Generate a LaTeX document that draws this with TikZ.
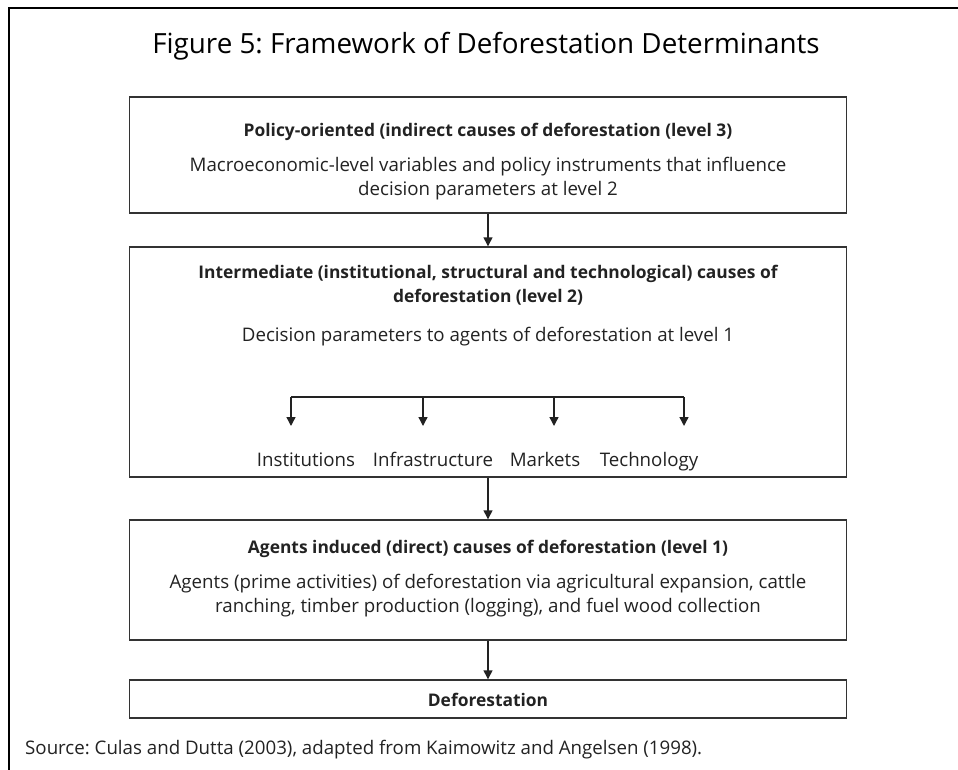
\documentclass[tikz,border=0pt]{standalone}
\usepackage{fontspec}
\setmainfont{Open Sans}[Ligatures=NoCommon]
\usetikzlibrary{arrows.meta}
\frenchspacing
\definecolor{boxline}{HTML}{333333}
\definecolor{txt}{HTML}{222222}
\tikzset{
  box/.style={draw=boxline, line width=1.4pt, minimum width=717pt, inner sep=0pt},
  arr/.style={draw=txt, line width=1.4pt, -{Triangle[length=9pt,width=9pt]}},
  bar/.style={draw=txt, line width=1.4pt},
  head/.style={font=\fontsize{17.4}{24}\selectfont\bfseries, text=txt, align=center, inner sep=0pt},
  body/.style={font=\fontsize{18.7}{24}\selectfont, text=txt, align=center, inner sep=0pt},
  lab/.style={font=\fontsize{18.7}{24}\selectfont, text=txt, inner sep=0pt, anchor=base},
  frame/.style={draw=black, line width=2.5pt},
}
\begin{document}
\begin{tikzpicture}[x=1pt,y=-1pt]
\useasboundingbox (0,0) rectangle (958,770);
% outer frame
\coordinate (fl) at (9,770);
\coordinate (ftl) at (9,8);
\coordinate (ftr) at (958,8);
\draw[frame] (fl) -- (ftl) -- (ftr);
% title
\node[font=\fontsize{27.8}{32}\selectfont, text=black, inner sep=0pt] (title) at (486,46) {Figure 5: Framework of Deforestation Determinants};
% boxes
\node[box, minimum height=116pt] (b1) at (488,155) {};
\node[box, minimum height=230pt] (b2) at (488,362) {};
\node[box, minimum height=120pt] (b3) at (488,580) {};
\node[box, minimum height=38pt] (b4) at (488,699) {};
% box 1 text
\node[head] (h1) at (488,132) {Policy-oriented (indirect causes of deforestation (level 3)};
\node[body] (t1) at (488,179) {Macroeconomic-level variables and policy instruments that influence\\decision parameters at level 2};
% box 2 text
\node[head] (h2) at (488,285) {Intermediate (institutional, structural and technological) causes of\\deforestation (level 2)};
\node[body] (t2) at (488,337) {Decision parameters to agents of deforestation at level 1};
\coordinate (barl) at (291,397);
\coordinate (barr) at (684,397);
\coordinate (a1) at (291,397);
\coordinate (a2) at (423,397);
\coordinate (a3) at (554,397);
\coordinate (a4) at (684,397);
\coordinate (e1) at (291,426);
\coordinate (e2) at (423,426);
\coordinate (e3) at (554,426);
\coordinate (e4) at (684,426);
\draw[bar] (barl) -- (barr);
\draw[arr] (a1) -- (e1);
\draw[arr] (a2) -- (e2);
\draw[arr] (a3) -- (e3);
\draw[arr] (a4) -- (e4);
\node[lab] (l1) at (306,466) {Institutions};
\node[lab] (l2) at (433,466) {Infrastructure};
\node[lab] (l3) at (545,466) {Markets};
\node[lab] (l4) at (649,466) {Technology};
% box 3 text
\node[head] (h3) at (488,549) {Agents induced (direct) causes of deforestation (level 1)};
\node[body] (t3) at (488,596) {Agents (prime activities) of deforestation via agricultural expansion, cattle\\ranching, timber production (logging), and fuel wood collection};
% box 4 text
\node[head] (h4) at (488,700) {Deforestation};
% connectors
\draw[arr] (b1.south) -- (b2.north);
\draw[arr] (b2.south) -- (b3.north);
\draw[arr] (b3.south) -- (b4.north);
% source
\node[body, anchor=west] (src) at (25,750) {Source: Culas and Dutta (2003), adapted from Kaimowitz and Angelsen (1998).};
\end{tikzpicture}
\end{document}
